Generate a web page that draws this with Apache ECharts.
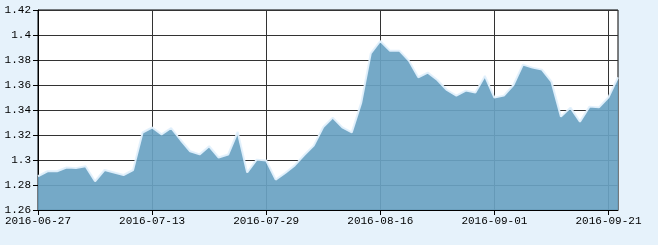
<!DOCTYPE html>
<html>
<head>
<meta charset="utf-8">
<script src="https://cdn.jsdelivr.net/npm/echarts@6/dist/echarts.min.js"></script>
<style>
html,body{margin:0;padding:0;background:#e6f2fb;}
#c{width:658px;height:245px;}
</style>
</head>
<body>
<div id="c"></div>
<script>
const dates = [
"2016-06-27","2016-06-28","2016-06-29","2016-06-30","2016-07-01",
"2016-07-04","2016-07-05","2016-07-06","2016-07-07","2016-07-08",
"2016-07-11","2016-07-12","2016-07-13","2016-07-14","2016-07-15",
"2016-07-18","2016-07-19","2016-07-20","2016-07-21","2016-07-22",
"2016-07-25","2016-07-26","2016-07-27","2016-07-28","2016-07-29",
"2016-08-01","2016-08-02","2016-08-03","2016-08-04","2016-08-05",
"2016-08-08","2016-08-09","2016-08-10","2016-08-11","2016-08-12",
"2016-08-15","2016-08-16","2016-08-17","2016-08-18","2016-08-19",
"2016-08-22","2016-08-23","2016-08-24","2016-08-25","2016-08-26",
"2016-08-29","2016-08-30","2016-08-31","2016-09-01","2016-09-02",
"2016-09-05","2016-09-06","2016-09-07","2016-09-08","2016-09-09",
"2016-09-12","2016-09-13","2016-09-14","2016-09-19","2016-09-20",
"2016-09-21","2016-09-22"
];
const values = [
1.287,1.291,1.291,1.294,1.2935,
1.295,1.283,1.292,1.290,1.288,
1.292,1.322,1.326,1.3205,1.3256,
1.316,1.307,1.3045,1.311,1.302,
1.3044,1.3224,1.290,1.3003,1.2996,
1.2843,1.2896,1.2957,1.304,1.3115,
1.3264,1.3339,1.3261,1.3221,1.3459,
1.3853,1.3952,1.3875,1.3875,1.3795,
1.3662,1.3699,1.364,1.356,1.3515,
1.3555,1.3539,1.3672,1.3499,1.3515,
1.360,1.3763,1.3739,1.3723,1.3627,
1.3347,1.3419,1.3307,1.3427,1.3421,
1.3502,1.3661
];
const yMin = 1.26, yMax = 1.42, yStep = 0.02;

const font = "'Liberation Mono', 'DejaVu Sans Mono', monospace";
const chart = echarts.init(document.getElementById('c'), null, {renderer:'canvas'});
chart.setOption({
  backgroundColor: '#e6f2fb',
  animation: false,
  grid: {left: 38, right: 40, top: 10, bottom: 35, show: true, backgroundColor: '#ffffff', borderColor: '#000', borderWidth: 1},
  xAxis: {
    type: 'category',
    data: dates,
    boundaryGap: false,
    axisLine: {lineStyle: {color: '#000', width: 1}},
    axisTick: {show: true, interval: 11, length: 5, lineStyle: {color: '#000'}},
    axisLabel: {interval: 11, color: '#000', fontFamily: font, fontSize: 11, margin: 6},
    splitLine: {show: true, interval: 11, lineStyle: {color: '#333', width: 1}}
  },
  yAxis: {
    type: 'value',
    min: yMin, max: yMax, interval: yStep,
    axisLine: {show: true, lineStyle: {color: '#000', width: 1}},
    axisTick: {show: true, length: 5, lineStyle: {color: '#000'}},
    axisLabel: {color: '#000', fontFamily: font, fontSize: 11, margin: 7},
    splitLine: {show: true, lineStyle: {color: '#333', width: 1}}
  },
  series: [{
    type: 'line',
    data: values,
    symbol: 'none',
    smooth: false,
    lineStyle: {color: 'rgba(225,240,252,0.95)', width: 2},
    areaStyle: {color: 'rgb(105,162,194)', opacity: 0.92, origin: 'start'},
    z: 2
  }]
});
</script>
</body>
</html>
